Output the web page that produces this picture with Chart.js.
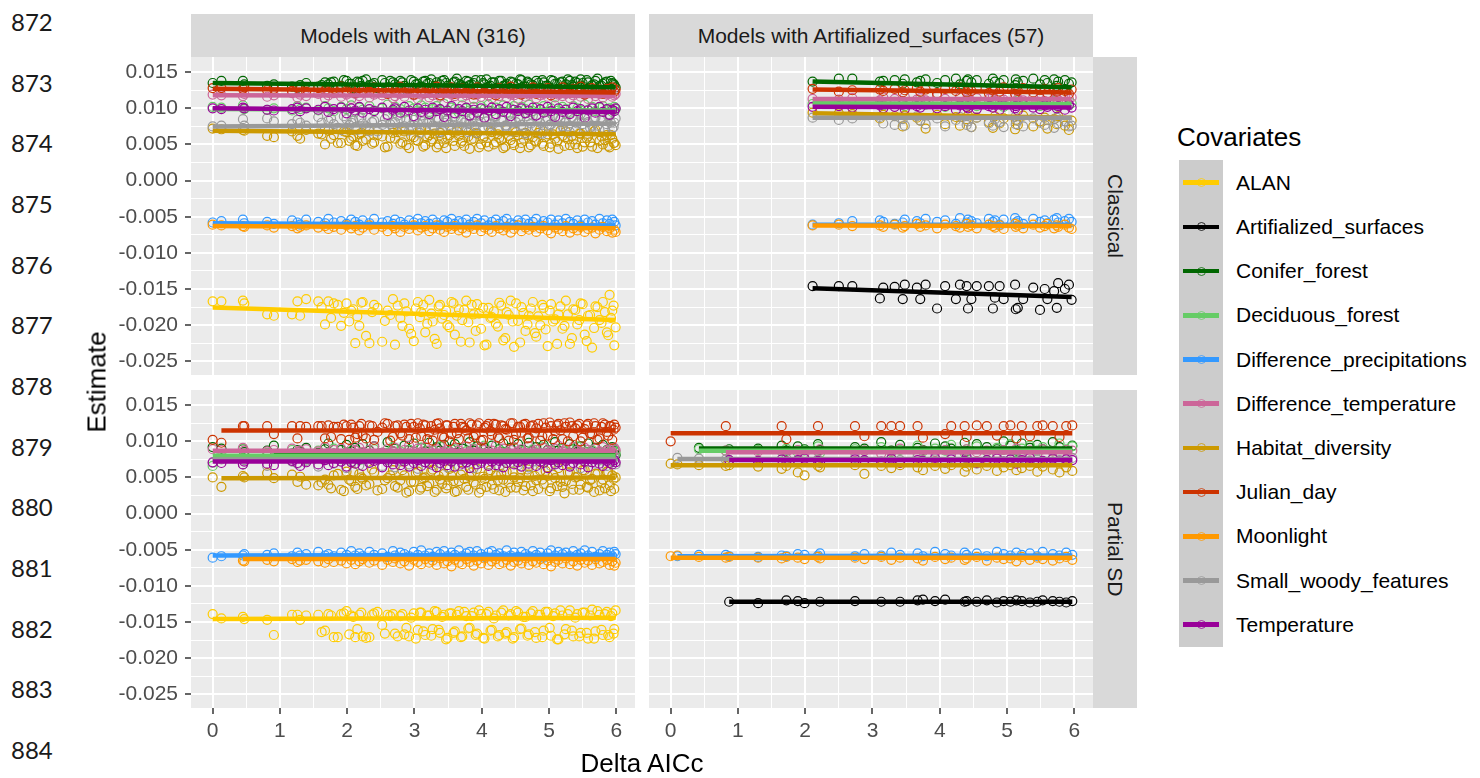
<!DOCTYPE html>
<html><head><meta charset="utf-8">
<script src="https://cdn.jsdelivr.net/npm/chart.js@4.4.1/dist/chart.umd.min.js"></script>
<style>
html,body{margin:0;padding:0;background:#fff}
body{width:1480px;height:778px;position:relative;overflow:hidden;font-family:"Liberation Sans",Arial,sans-serif}
.abs{position:absolute}
.strip{position:absolute;background:#D9D9D9;color:#1A1A1A;font-size:21px;display:flex;align-items:center;justify-content:center;white-space:nowrap}
.vstrip{writing-mode:vertical-rl}
.ln{position:absolute;left:11px;font-family:Lato,"Liberation Sans",sans-serif;font-size:24px;color:#1a1a1a;line-height:28px}
.leg{position:absolute;left:1236px;font-size:21px;color:#000;line-height:26px;white-space:nowrap}
canvas{position:absolute}
</style></head>
<body>
<div id="linenums"></div>
<div class="strip" style="left:191px;top:14px;width:444px;height:43px">Models with ALAN (316)</div>
<div class="strip" style="left:649px;top:14px;width:444px;height:43px">Models with Artifialized_surfaces (57)</div>
<div class="strip vstrip" style="left:1093px;top:57px;width:44px;height:318px">Classical</div>
<div class="strip vstrip" style="left:1093px;top:390px;width:44px;height:318px">Partial SD</div>
<canvas id="tl" width="535" height="318" style="left:100px;top:57px"></canvas>
<canvas id="tr" width="444" height="318" style="left:649px;top:57px"></canvas>
<canvas id="bl" width="535" height="358" style="left:100px;top:390px"></canvas>
<canvas id="br" width="444" height="358" style="left:649px;top:390px"></canvas>
<div class="abs" style="left:84px;top:382px;width:0;height:0"><div style="position:absolute;transform:translate(-50%,-50%) rotate(-90deg);font-size:26px;color:#000;white-space:nowrap;left:13px">Estimate</div></div>
<div class="abs" style="left:642px;top:763px;width:0;height:0"><div style="position:absolute;transform:translate(-50%,-50%);font-size:26px;color:#000;white-space:nowrap">Delta AICc</div></div>
<div class="abs" style="left:1177px;top:122px;font-size:26px;line-height:30px;color:#000">Covariates</div>
<div class="abs" style="left:1179px;top:160px;width:44px;height:487px;background:#CCCCCC"></div>
<div id="legend"></div>
<script>
// ---------- labels ----------
const lineNumbers = ["872","873","874","875","876","877","878","879","880","881","882","883","884"];
const covariates = ["ALAN","Artifialized_surfaces","Conifer_forest","Deciduous_forest","Difference_precipitations","Difference_temperature","Habitat_diversity","Julian_day","Moonlight","Small_woody_features","Temperature"];
const colors = ["#FFCC00","#000000","#006600","#66CC66","#3399FF","#CC6699","#CC9900","#CC3300","#FF9900","#999999","#990099"];
const xTicks = [0,0.5,1,1.5,2,2.5,3,3.5,4,4.5,5,5.5,6];
const yTicks = [-0.025,-0.0225,-0.02,-0.0175,-0.015,-0.0125,-0.01,-0.0075,-0.005,-0.0025,0,0.0025,0.005,0.0075,0.01,0.0125,0.015];

// ---------- Delta AICc of models (left column: models with ALAN) ----------
const xL = [0,0.13,0.45,0.47,0.81,0.91,1.18,1.26,1.30,1.39,
1.57,1.67,1.72,1.80,1.91,1.99,2.06,2.12,2.18,2.23,
2.33,2.40,2.52,2.60,2.68,2.71,2.79,2.85,2.92,2.99,
3.05,3.10,3.16,3.22,3.27,3.33,3.38,3.44,3.49,3.55,
3.60,3.66,3.71,3.77,3.82,3.88,3.93,3.99,4.04,4.10,
4.15,4.21,4.26,4.32,4.37,4.43,4.48,4.54,4.59,4.65,
4.70,4.76,4.81,4.87,4.92,4.98,5.03,5.09,5.14,5.20,
5.25,5.31,5.36,5.42,5.47,5.53,5.58,5.64,5.69,5.75,
5.80,5.86,5.90,5.94,5.97,5.99];
// second batch of models with ALAN (fewer covariates each)
const xL2 = [1.62,1.76,1.86,1.95,2.03,2.09,2.15,2.21,2.28,2.37,
2.45,2.56,2.64,2.75,2.82,2.88,2.95,3.02,3.08,3.13,
3.19,3.25,3.30,3.36,3.41,3.47,3.52,3.58,3.63,3.69,
3.74,3.80,3.85,3.91,3.96,4.02,4.07,4.13,4.18,4.24,
4.29,4.35,4.40,4.46,4.51,4.57,4.62,4.68,4.73,4.79,
4.84,4.90,4.95,5.01,5.06,5.12,5.17,5.23,5.28,5.34,
5.39,5.45,5.50,5.56,5.61,5.67,5.72,5.78,5.83,5.88,5.92,5.96];

// ---------- Classical, models with ALAN ----------
const TL_ALAN = [-.0167,-.0167,-.0166,-.0170,-.0185,-.0187,-.0185,-.0167,-.0187,-.0164,
-.0167,-.0199,-.0167,-.0170,-.0201,-.0170,-.0180,-.0225,-.0201,-.0168,
-.0225,-.0172,-.0223,-.0180,-.0164,-.0227,-.0190,-.0170,-.0205,-.0222,
-.0168,-.0182,-.0210,-.0165,-.0195,-.0226,-.0172,-.0186,-.0200,-.0168,
-.0213,-.0178,-.0193,-.0166,-.0224,-.0185,-.0171,-.0205,-.0228,-.0176,
-.0189,-.0198,-.0169,-.0221,-.0182,-.0166,-.0230,-.0194,-.0175,-.0208,
-.0187,-.0168,-.0216,-.0200,-.0176,-.0229,-.0171,-.0192,-.0185,-.0205,
-.0166,-.0226,-.0178,-.0199,-.0170,-.0213,-.0187,-.0231,-.0174,-.0193,
-.0168,-.0210,-.0158,-.0180,-.0228,-.0203];
const TL_Conifer = [.0135,.0138,.0138,.0133,.0131,.0133,.0130,.0128,.0132,.0135,
.0130,.0136,.0133,.0137,.0131,.0138,.0134,.0127,.0136,.0138,
.0132,.0135,.0139,.0129,.0136,.0133,.0138,.0131,.0127,.0137,
.0134,.0130,.0138,.0135,.0128,.0136,.0133,.0139,.0131,.0126,
.0137,.0134,.0129,.0138,.0132,.0135,.0127,.0139,.0133,.0130,
.0136,.0128,.0138,.0131,.0134,.0137,.0126,.0133,.0139,.0130,
.0135,.0132,.0138,.0128,.0136,.0131,.0139,.0134,.0127,.0137,
.0133,.0138,.0130,.0135,.0140,.0129,.0136,.0132,.0138,.0131,
.0134,.0137,.0128,.0135,.0132,.0129];
const TL_Deciduous = [.0102,.0101,.0104,.0099,.0098,.0100,.0097,.0103,.0099,.0101,
.0097,.0103,.0100,.0096,.0102,.0099,.0104,.0095,.0101,.0098,
.0103,.0097,.0100,.0105,.0096,.0102,.0099,.0094,.0103,.0100,
.0097,.0104,.0101,.0095,.0099,.0103,.0098,.0106,.0096,.0101,
.0099,.0094,.0104,.0100,.0097,.0102,.0095,.0103,.0099,.0105,
.0096,.0101,.0098,.0104,.0094,.0100,.0103,.0097,.0102,.0099,
.0105,.0096,.0101,.0098,.0103,.0095,.0100,.0104,.0097,.0102,
.0099,.0094,.0103,.0100,.0097,.0105,.0098,.0102,.0096,.0101,
.0103,.0098,.0100,.0095,.0102,.0099];
const TL_DiffPrecip = [-.0058,-.0056,-.0054,-.0059,-.0057,-.0060,-.0055,-.0058,-.0061,-.0054,
-.0057,-.0059,-.0053,-.0058,-.0056,-.0060,-.0054,-.0057,-.0061,-.0055,
-.0059,-.0053,-.0058,-.0056,-.0060,-.0054,-.0057,-.0061,-.0055,-.0058,
-.0053,-.0059,-.0056,-.0060,-.0054,-.0058,-.0062,-.0055,-.0057,-.0053,
-.0060,-.0056,-.0058,-.0054,-.0061,-.0057,-.0053,-.0059,-.0055,-.0062,
-.0057,-.0054,-.0060,-.0056,-.0053,-.0059,-.0061,-.0055,-.0058,-.0054,
-.0060,-.0057,-.0053,-.0062,-.0056,-.0058,-.0054,-.0061,-.0055,-.0059,
-.0053,-.0057,-.0060,-.0055,-.0062,-.0054,-.0058,-.0056,-.0061,-.0053,
-.0059,-.0055,-.0060,-.0054,-.0057,-.0062];
const TL_DiffTemp = [.0119,.0118,.0117,.0120,.0116,.0118,.0121,.0115,.0119,.0117,
.0120,.0114,.0118,.0121,.0116,.0119,.0113,.0120,.0117,.0122,
.0115,.0119,.0118,.0121,.0114,.0117,.0120,.0116,.0122,.0118,
.0113,.0119,.0121,.0115,.0118,.0120,.0116,.0122,.0114,.0119,
.0117,.0121,.0115,.0118,.0120,.0113,.0119,.0116,.0121,.0118,
.0114,.0120,.0117,.0122,.0115,.0119,.0118,.0113,.0121,.0116,
.0119,.0122,.0114,.0118,.0120,.0116,.0121,.0115,.0119,.0117,
.0120,.0114,.0118,.0122,.0116,.0119,.0113,.0121,.0117,.0120,
.0115,.0119,.0121,.0116,.0118,.0120];
const TL_Habitat = [.0072,.0071,.0070,.0069,.0062,.0060,.0068,.0062,.0058,.0070,
.0065,.0050,.0069,.0063,.0052,.0067,.0058,.0049,.0064,.0055,
.0070,.0053,.0061,.0047,.0066,.0058,.0051,.0068,.0045,.0060,
.0055,.0071,.0049,.0063,.0057,.0046,.0066,.0052,.0059,.0069,
.0048,.0062,.0055,.0073,.0044,.0058,.0065,.0050,.0061,.0047,
.0067,.0053,.0059,.0045,.0070,.0056,.0049,.0063,.0052,.0066,
.0046,.0060,.0054,.0071,.0048,.0064,.0051,.0058,.0044,.0062,
.0068,.0049,.0057,.0045,.0065,.0053,.0061,.0047,.0070,.0055,
.0050,.0063,.0046,.0058,.0052,.0049];
const TL_Julian = [.0128,.0128,.0127,.0129,.0125,.0127,.0124,.0129,.0126,.0123,
.0128,.0125,.0122,.0127,.0130,.0124,.0126,.0121,.0128,.0125,
.0123,.0129,.0126,.0120,.0127,.0124,.0130,.0122,.0126,.0119,
.0128,.0124,.0121,.0127,.0125,.0130,.0118,.0126,.0123,.0129,
.0120,.0125,.0128,.0122,.0126,.0119,.0129,.0124,.0121,.0127,
.0125,.0118,.0128,.0123,.0126,.0130,.0121,.0125,.0119,.0127,
.0123,.0129,.0120,.0126,.0124,.0128,.0118,.0125,.0122,.0129,
.0126,.0121,.0127,.0124,.0130,.0119,.0125,.0128,.0122,.0126,
.0120,.0127,.0124,.0129,.0123,.0126];
const TL_Moonlight = [-.0061,-.0062,-.0063,-.0064,-.0062,-.0065,-.0063,-.0066,-.0064,-.0062,
-.0065,-.0063,-.0067,-.0064,-.0068,-.0062,-.0066,-.0063,-.0069,-.0065,
-.0062,-.0068,-.0064,-.0070,-.0063,-.0066,-.0071,-.0064,-.0067,-.0062,
-.0069,-.0065,-.0063,-.0070,-.0066,-.0062,-.0068,-.0071,-.0064,-.0067,
-.0063,-.0069,-.0066,-.0072,-.0064,-.0067,-.0062,-.0070,-.0065,-.0068,
-.0071,-.0063,-.0066,-.0069,-.0064,-.0072,-.0067,-.0062,-.0070,-.0065,
-.0068,-.0064,-.0071,-.0066,-.0063,-.0069,-.0073,-.0065,-.0067,-.0070,
-.0063,-.0072,-.0066,-.0069,-.0064,-.0071,-.0067,-.0065,-.0073,-.0068,
-.0064,-.0070,-.0066,-.0072,-.0068,-.0071];
const TL_SmallWoody = [.0075,.0076,.0085,.0076,.0086,.0082,.0078,.0084,.0080,.0076,
.0088,.0072,.0083,.0078,.0070,.0085,.0080,.0074,.0087,.0079,
.0068,.0083,.0077,.0089,.0072,.0081,.0086,.0075,.0069,.0084,
.0079,.0090,.0071,.0082,.0076,.0087,.0067,.0080,.0085,.0073,
.0088,.0075,.0070,.0083,.0078,.0091,.0066,.0081,.0086,.0074,
.0079,.0089,.0069,.0084,.0076,.0082,.0072,.0087,.0077,.0065,
.0083,.0090,.0074,.0080,.0068,.0086,.0078,.0071,.0088,.0075,
.0082,.0067,.0085,.0079,.0092,.0073,.0081,.0076,.0087,.0070,
.0084,.0078,.0089,.0072,.0080,.0086];
const TL_Temperature = [.0100,.0099,.0101,.0100,.0098,.0097,.0099,.0101,.0096,.0100,
.0098,.0102,.0095,.0099,.0101,.0093,.0100,.0097,.0102,.0094,
.0099,.0096,.0101,.0091,.0098,.0100,.0094,.0102,.0097,.0089,
.0100,.0095,.0098,.0092,.0101,.0096,.0099,.0088,.0097,.0103,
.0093,.0099,.0096,.0101,.0090,.0098,.0094,.0100,.0087,.0097,
.0101,.0092,.0099,.0095,.0102,.0089,.0098,.0096,.0100,.0093,
.0097,.0101,.0090,.0099,.0094,.0102,.0096,.0088,.0100,.0095,
.0098,.0092,.0101,.0096,.0099,.0087,.0097,.0100,.0094,.0102,
.0095,.0099,.0091,.0098,.0096,.0100];
// second batch (xL2), Classical
const TL2_ALAN = [-.0175,-.0190,-.0172,-.0183,-.0195,-.0178,-.0188,-.0169,-.0215,-.0182,
-.0176,-.0194,-.0186,-.0173,-.0201,-.0181,-.0212,-.0177,-.0189,-.0172,
-.0198,-.0184,-.0219,-.0174,-.0191,-.0180,-.0203,-.0170,-.0187,-.0223,
-.0179,-.0196,-.0172,-.0208,-.0184,-.0176,-.0227,-.0190,-.0181,-.0202,
-.0173,-.0218,-.0186,-.0195,-.0170,-.0224,-.0183,-.0199,-.0177,-.0211,
-.0188,-.0172,-.0206,-.0180,-.0195,-.0226,-.0174,-.0201,-.0185,-.0218,
-.0179,-.0193,-.0171,-.0222,-.0186,-.0204,-.0175,-.0197,-.0182,-.0214,-.0190,-.0173];
const TL2_Conifer = [.0132,.0136,.0129,.0139,.0134,.0127,.0137,.0131,.0140,.0133,
.0128,.0135,.0138,.0130,.0136,.0126,.0139,.0133,.0129,.0137,
.0134,.0140,.0131,.0127,.0138,.0135,.0129,.0136,.0141,.0132,
.0130,.0137,.0133,.0139,.0128,.0135,.0140,.0131,.0136,.0127,
.0138,.0132,.0129,.0136,.0134,.0140,.0130,.0137,.0133,.0128,
.0135,.0139,.0131,.0127,.0138,.0134,.0136,.0129,.0140,.0132,
.0137,.0130,.0135,.0139,.0128,.0133,.0141,.0131,.0136,.0129,.0138,.0134];
const TL2_Habitat = [.0064,.0058,.0052,.0068,.0055,.0061,.0048,.0066,.0057,.0051,
.0063,.0046,.0059,.0067,.0053,.0049,.0062,.0056,.0070,.0047,
.0060,.0054,.0065,.0050,.0058,.0045,.0063,.0055,.0068,.0052,
.0048,.0061,.0057,.0066,.0046,.0059,.0053,.0069,.0050,.0064,
.0056,.0047,.0062,.0052,.0067,.0045,.0058,.0063,.0049,.0055,
.0066,.0051,.0060,.0046,.0064,.0054,.0069,.0048,.0057,.0062,
.0050,.0065,.0047,.0059,.0053,.0068,.0045,.0061,.0056,.0048,.0063,.0052];
const TL2_SmallWoody = [.0080,.0086,.0073,.0089,.0077,.0083,.0070,.0087,.0075,.0081,
.0068,.0085,.0078,.0090,.0072,.0084,.0076,.0088,.0066,.0082,
.0079,.0091,.0074,.0086,.0069,.0083,.0077,.0089,.0071,.0085,
.0080,.0067,.0087,.0075,.0090,.0073,.0082,.0078,.0088,.0070,
.0084,.0076,.0091,.0068,.0081,.0086,.0074,.0089,.0079,.0072,
.0087,.0065,.0083,.0077,.0090,.0071,.0085,.0080,.0075,.0088,
.0069,.0082,.0078,.0091,.0073,.0086,.0076,.0084,.0070,.0089,.0080,.0074];

// ---------- Partial SD, models with ALAN ----------
const BL_ALAN = [-.0139,-.0145,-.0143,-.0146,-.0147,-.0168,-.0140,-.0140,-.0147,-.0141,
-.0140,-.0162,-.0139,-.0171,-.0139,-.0135,-.0141,-.0171,-.0140,-.0170,
-.0171,-.0138,-.0154,-.0140,-.0139,-.0166,-.0142,-.0167,-.0170,-.0138,
-.0161,-.0137,-.0168,-.0141,-.0160,-.0136,-.0165,-.0140,-.0172,-.0138,
-.0163,-.0135,-.0170,-.0142,-.0158,-.0137,-.0166,-.0139,-.0173,-.0136,
-.0161,-.0141,-.0168,-.0134,-.0164,-.0139,-.0171,-.0137,-.0159,-.0143,
-.0167,-.0135,-.0172,-.0140,-.0162,-.0136,-.0169,-.0138,-.0174,-.0141,
-.0160,-.0134,-.0170,-.0139,-.0165,-.0137,-.0173,-.0133,-.0163,-.0140,
-.0168,-.0136,-.0171,-.0138,-.0160,-.0134];
const BL_Conifer = [.0092,.0090,.0089,.0085,.0087,.0094,.0083,.0088,.0086,.0091,
.0084,.0089,.0097,.0083,.0088,.0095,.0086,.0091,.0082,.0096,
.0087,.0093,.0084,.0099,.0086,.0090,.0081,.0094,.0088,.0097,
.0083,.0091,.0086,.0098,.0080,.0092,.0087,.0095,.0082,.0089,
.0096,.0084,.0090,.0081,.0099,.0087,.0093,.0079,.0091,.0086,
.0094,.0082,.0089,.0097,.0085,.0091,.0080,.0096,.0088,.0083,
.0098,.0086,.0092,.0081,.0095,.0088,.0084,.0099,.0087,.0090,
.0082,.0096,.0089,.0085,.0093,.0080,.0097,.0086,.0091,.0084,
.0095,.0088,.0083,.0092,.0087,.0081];
const BL_Deciduous = [.0066,.0082,.0090,.0079,.0084,.0077,.0088,.0080,.0083,.0075,
.0087,.0078,.0082,.0090,.0076,.0085,.0079,.0088,.0074,.0083,
.0081,.0089,.0077,.0084,.0092,.0079,.0086,.0075,.0088,.0082,
.0078,.0091,.0083,.0076,.0087,.0080,.0093,.0079,.0085,.0077,
.0089,.0081,.0075,.0086,.0082,.0090,.0078,.0084,.0094,.0080,
.0083,.0076,.0088,.0081,.0085,.0079,.0091,.0077,.0086,.0082,
.0080,.0089,.0084,.0076,.0092,.0081,.0087,.0078,.0083,.0090,
.0086,.0079,.0082,.0093,.0077,.0085,.0080,.0088,.0081,.0084,
.0078,.0087,.0083,.0090,.0081,.0085];
const BL_DiffPrecip = [-.0061,-.0059,-.0058,-.0056,-.0057,-.0055,-.0059,-.0054,-.0058,-.0056,
-.0053,-.0058,-.0056,-.0059,-.0054,-.0057,-.0052,-.0058,-.0055,-.0059,
-.0053,-.0057,-.0055,-.0060,-.0052,-.0058,-.0054,-.0056,-.0059,-.0053,
-.0057,-.0051,-.0058,-.0055,-.0060,-.0053,-.0056,-.0052,-.0059,-.0054,
-.0057,-.0051,-.0059,-.0055,-.0053,-.0058,-.0052,-.0056,-.0060,-.0054,
-.0052,-.0057,-.0055,-.0059,-.0051,-.0058,-.0054,-.0060,-.0053,-.0056,
-.0059,-.0052,-.0057,-.0054,-.0061,-.0055,-.0051,-.0058,-.0053,-.0056,
-.0054,-.0059,-.0052,-.0057,-.0055,-.0051,-.0058,-.0053,-.0060,-.0056,
-.0052,-.0057,-.0054,-.0059,-.0053,-.0056];
const BL_DiffTemp = [.0089,.0088,.0091,.0087,.0086,.0088,.0090,.0085,.0087,.0089,
.0086,.0092,.0084,.0088,.0090,.0083,.0089,.0087,.0091,.0085,
.0088,.0093,.0084,.0089,.0086,.0091,.0083,.0088,.0094,.0086,
.0090,.0085,.0092,.0087,.0083,.0089,.0095,.0086,.0088,.0084,
.0091,.0087,.0083,.0093,.0086,.0089,.0085,.0092,.0088,.0082,
.0087,.0094,.0085,.0090,.0083,.0088,.0092,.0086,.0089,.0084,
.0093,.0086,.0088,.0082,.0091,.0087,.0085,.0090,.0094,.0086,
.0089,.0083,.0092,.0087,.0085,.0091,.0088,.0084,.0090,.0086,
.0092,.0087,.0089,.0085,.0091,.0088];
const BL_Habitat = [.0050,.0037,.0052,.0050,.0056,.0049,.0054,.0044,.0051,.0040,
.0039,.0047,.0040,.0053,.0033,.0058,.0045,.0037,.0055,.0048,
.0041,.0057,.0034,.0049,.0060,.0038,.0046,.0053,.0031,.0044,
.0058,.0036,.0050,.0042,.0061,.0033,.0047,.0055,.0039,.0052,
.0030,.0045,.0059,.0037,.0051,.0043,.0062,.0034,.0048,.0056,
.0040,.0053,.0032,.0047,.0058,.0036,.0050,.0044,.0061,.0038,
.0054,.0031,.0046,.0059,.0041,.0052,.0035,.0049,.0063,.0037,
.0045,.0057,.0033,.0051,.0040,.0060,.0036,.0048,.0055,.0032,
.0047,.0058,.0039,.0053,.0034,.0050];
const BL_Julian = [.0102,.0098,.0121,.0121,.0121,.0110,.0121,.0104,.0121,.0120,
.0121,.0104,.0122,.0120,.0103,.0121,.0123,.0105,.0121,.0108,
.0122,.0102,.0119,.0124,.0106,.0121,.0111,.0123,.0103,.0120,
.0125,.0107,.0122,.0113,.0101,.0124,.0118,.0105,.0122,.0110,
.0124,.0103,.0120,.0115,.0125,.0106,.0122,.0101,.0119,.0124,
.0109,.0123,.0104,.0121,.0116,.0125,.0102,.0120,.0112,.0124,
.0105,.0122,.0118,.0101,.0125,.0108,.0121,.0114,.0124,.0103,
.0120,.0126,.0107,.0122,.0100,.0117,.0124,.0110,.0121,.0104,
.0125,.0113,.0121,.0102,.0123,.0119];
const BL_Moonlight = [null,null,-.0065,-.0066,-.0064,-.0066,-.0063,-.0067,-.0065,-.0064,
-.0066,-.0068,-.0063,-.0067,-.0065,-.0069,-.0064,-.0070,-.0066,-.0063,
-.0068,-.0065,-.0071,-.0064,-.0067,-.0062,-.0069,-.0066,-.0072,-.0064,
-.0067,-.0070,-.0063,-.0068,-.0065,-.0071,-.0062,-.0069,-.0066,-.0073,
-.0064,-.0068,-.0070,-.0063,-.0067,-.0072,-.0065,-.0069,-.0062,-.0071,
-.0066,-.0063,-.0070,-.0068,-.0064,-.0072,-.0067,-.0065,-.0069,-.0062,
-.0071,-.0066,-.0068,-.0063,-.0070,-.0065,-.0073,-.0067,-.0064,-.0069,
-.0062,-.0070,-.0066,-.0072,-.0064,-.0068,-.0065,-.0071,-.0063,-.0069,
-.0067,-.0064,-.0071,-.0066,-.0072,-.0068];
const BL_SmallWoody = [.0070,.0075,.0068,.0074,.0066,.0076,.0072,.0069,.0078,.0073,
.0065,.0074,.0080,.0069,.0076,.0063,.0072,.0079,.0067,.0075,
.0071,.0082,.0066,.0074,.0078,.0064,.0073,.0080,.0068,.0076,
.0062,.0077,.0071,.0083,.0067,.0075,.0069,.0081,.0064,.0073,
.0078,.0066,.0074,.0070,.0084,.0063,.0076,.0072,.0079,.0068,
.0075,.0081,.0065,.0073,.0077,.0070,.0082,.0067,.0074,.0079,
.0064,.0072,.0080,.0068,.0076,.0083,.0066,.0074,.0070,.0078,
.0073,.0067,.0081,.0075,.0063,.0078,.0071,.0085,.0069,.0074,
.0080,.0066,.0076,.0072,.0079,.0068];
const BL_Temperature = [.0071,.0070,.0068,.0072,.0069,.0067,.0073,.0070,.0066,.0071,
.0068,.0074,.0067,.0070,.0072,.0065,.0071,.0069,.0075,.0066,
.0070,.0073,.0064,.0071,.0068,.0076,.0067,.0072,.0065,.0070,
.0074,.0066,.0071,.0069,.0077,.0064,.0070,.0073,.0067,.0072,
.0065,.0075,.0069,.0071,.0063,.0074,.0068,.0070,.0076,.0066,
.0072,.0067,.0073,.0064,.0070,.0075,.0068,.0071,.0065,.0074,
.0069,.0076,.0066,.0072,.0070,.0063,.0074,.0068,.0071,.0067,
.0073,.0065,.0070,.0076,.0068,.0072,.0064,.0071,.0075,.0069,
.0066,.0073,.0070,.0068,.0074,.0071];
// second batch (xL2), Partial SD
const BL2_ALAN = [-.0164,-.0141,-.0171,-.0138,-.0167,-.0143,-.0160,-.0137,-.0172,-.0140,
-.0136,-.0166,-.0142,-.0170,-.0139,-.0158,-.0144,-.0173,-.0137,-.0163,
-.0141,-.0169,-.0135,-.0161,-.0143,-.0174,-.0138,-.0165,-.0140,-.0171,
-.0136,-.0159,-.0142,-.0168,-.0134,-.0172,-.0139,-.0162,-.0145,-.0170,
-.0137,-.0166,-.0141,-.0173,-.0135,-.0160,-.0143,-.0169,-.0138,-.0164,
-.0140,-.0171,-.0136,-.0158,-.0142,-.0174,-.0134,-.0167,-.0139,-.0162,
-.0144,-.0170,-.0137,-.0165,-.0141,-.0173,-.0135,-.0161,-.0139,-.0168,-.0142,-.0166];
const BL2_Habitat = [.0043,.0035,.0055,.0031,.0047,.0058,.0034,.0050,.0039,.0061,
.0032,.0046,.0053,.0036,.0060,.0029,.0044,.0056,.0033,.0049,
.0038,.0059,.0030,.0052,.0041,.0035,.0062,.0045,.0031,.0054,
.0048,.0033,.0057,.0040,.0029,.0051,.0037,.0060,.0034,.0046,
.0055,.0030,.0043,.0058,.0036,.0049,.0032,.0061,.0039,.0052,
.0034,.0047,.0059,.0031,.0054,.0038,.0044,.0028,.0057,.0041,
.0050,.0033,.0060,.0037,.0046,.0030,.0055,.0042,.0035,.0058,.0031,.0048];
const BL2_Julian = [.0121,.0106,.0120,.0123,.0102,.0119,.0110,.0124,.0104,.0121,
.0113,.0125,.0101,.0122,.0108,.0120,.0124,.0105,.0118,.0123,
.0103,.0121,.0116,.0125,.0107,.0122,.0100,.0120,.0111,.0124,
.0119,.0104,.0123,.0109,.0125,.0102,.0121,.0114,.0124,.0106,
.0122,.0117,.0101,.0125,.0110,.0120,.0123,.0104,.0121,.0112,
.0124,.0107,.0119,.0126,.0103,.0122,.0115,.0125,.0100,.0121,
.0118,.0124,.0105,.0122,.0111,.0125,.0102,.0120,.0123,.0108,.0121,.0116];

// ---------- Classical, models with Artifialized_surfaces ----------
const xTR = [2.11,2.50,2.70,3.11,3.16,3.33,3.45,3.48,3.66,3.71,
3.79,3.96,4.08,4.24,4.30,4.40,4.42,4.47,4.55,4.73,
4.79,4.82,4.89,4.95,5.12,5.13,5.16,5.24,5.39,5.49,
5.56,5.60,5.70,5.74,5.76,5.86,5.92,5.96];
const TR_Artif = [-.0146,-.0146,-.0146,-.0163,-.0148,-.0147,-.0164,-.0144,-.0148,-.0164,
-.0144,-.0177,-.0146,-.0164,-.0144,-.0146,-.0177,-.0164,-.0146,-.0146,
-.0177,-.0162,-.0146,-.0164,-.0144,-.0178,-.0176,-.0164,-.0148,-.0179,
-.0150,-.0164,-.0153,-.0176,-.0142,-.0150,-.0144,-.0165];
const TR_Conifer = [.0137,.0141,.0141,.0137,.0138,.0139,.0134,.0140,.0136,.0138,
.0140,.0135,.0139,.0141,.0133,.0138,.0140,.0136,.0139,.0134,
.0141,.0137,.0135,.0139,.0132,.0140,.0136,.0138,.0141,.0133,
.0139,.0135,.0140,.0131,.0137,.0139,.0134,.0136];
const TR_Deciduous = [.0106,.0108,.0105,.0107,.0104,.0109,.0106,.0103,.0108,.0110,
.0105,.0107,.0102,.0109,.0106,.0111,.0104,.0108,.0103,.0107,
.0110,.0105,.0108,.0102,.0109,.0106,.0111,.0104,.0107,.0103,
.0109,.0105,.0110,.0106,.0102,.0108,.0104,.0107];
const TR_DiffPrecip = [-.0061,-.0059,-.0056,-.0055,-.0057,-.0060,-.0058,-.0054,-.0056,-.0059,
-.0053,-.0057,-.0055,-.0060,-.0052,-.0058,-.0054,-.0056,-.0059,-.0053,
-.0057,-.0055,-.0061,-.0054,-.0052,-.0058,-.0056,-.0060,-.0053,-.0057,
-.0055,-.0059,-.0054,-.0052,-.0058,-.0056,-.0053,-.0057];
const TR_DiffTemp = [.0113,.0112,.0114,.0111,.0115,.0113,.0110,.0116,.0112,.0114,
.0111,.0117,.0113,.0109,.0115,.0112,.0116,.0110,.0114,.0113,
.0117,.0111,.0115,.0112,.0109,.0116,.0113,.0111,.0115,.0114,
.0110,.0116,.0112,.0114,.0111,.0117,.0113,.0115];
const TR_Habitat = [.0094,.0093,.0092,.0086,.0091,.0089,.0075,.0090,.0087,.0083,
.0072,.0091,.0078,.0088,.0076,.0085,.0090,.0074,.0087,.0081,
.0073,.0089,.0079,.0086,.0071,.0084,.0077,.0090,.0075,.0082,
.0087,.0072,.0085,.0078,.0089,.0076,.0070,.0083];
const TR_Julian = [.0127,.0123,.0125,.0126,.0124,.0127,.0122,.0125,.0128,.0123,
.0126,.0121,.0127,.0124,.0129,.0122,.0126,.0124,.0128,.0121,
.0125,.0127,.0123,.0129,.0120,.0126,.0124,.0128,.0122,.0125,
.0127,.0121,.0126,.0123,.0128,.0124,.0120,.0126];
const TR_Moonlight = [-.0062,-.0061,-.0063,-.0062,-.0064,-.0061,-.0065,-.0063,-.0060,-.0064,
-.0062,-.0066,-.0061,-.0063,-.0065,-.0060,-.0064,-.0062,-.0066,-.0061,
-.0063,-.0065,-.0062,-.0067,-.0060,-.0064,-.0062,-.0066,-.0061,-.0065,
-.0063,-.0060,-.0066,-.0062,-.0064,-.0061,-.0065,-.0067];
const TR_SmallWoody = [.0087,.0084,.0086,.0088,.0079,.0077,.0085,.0076,.0089,.0083,
.0078,.0086,.0075,.0084,.0088,.0077,.0082,.0074,.0087,.0079,
.0076,.0085,.0081,.0074,.0088,.0078,.0083,.0075,.0086,.0080,
.0077,.0084,.0073,.0087,.0079,.0082,.0075,.0076];
const TR_Temperature = [.0102,.0103,.0101,.0104,.0100,.0102,.0105,.0099,.0103,.0101,
.0106,.0100,.0103,.0098,.0104,.0102,.0100,.0105,.0099,.0103,
.0101,.0106,.0098,.0104,.0100,.0103,.0097,.0105,.0101,.0099,
.0104,.0102,.0106,.0100,.0103,.0098,.0105,.0101];

// ---------- Partial SD, models with Artifialized_surfaces ----------
const xBR = [0,0.10,0.42,0.82,0.87,1.30,1.65,1.72,1.89,1.99,
2.19,2.22,2.74,2.88,3.13,3.28,3.41,3.67,3.75,3.93,
4.08,4.17,4.37,4.40,4.55,4.70,4.85,4.95,5.05,5.14,
5.22,5.34,5.45,5.53,5.68,5.78,5.88,5.97];
const BR_Artif = [null,null,null,null,-.0122,-.0124,null,-.0120,-.0121,-.0124,
null,-.0122,-.0121,null,-.0122,null,-.0122,-.0120,-.0119,-.0121,
-.0119,null,-.0122,-.0121,-.0122,-.0120,-.0123,-.0121,-.0122,-.0120,
-.0121,-.0123,-.0122,-.0120,-.0121,-.0122,-.0123,-.0121];
const BR_Conifer = [null,null,.0091,null,.0089,.0090,.0094,.0087,.0093,.0089,
.0096,.0088,.0092,.0090,.0099,.0087,.0095,.0091,.0088,.0097,
.0093,.0090,.0098,.0086,.0096,.0092,.0089,.0100,.0094,.0087,
.0097,.0091,.0095,.0089,.0099,.0092,.0088,.0094];
const BR_Deciduous = [null,null,.0089,.0087,null,.0088,.0086,.0090,.0085,.0087,
.0093,.0084,.0089,.0087,.0092,.0085,.0088,.0094,.0086,.0090,
.0087,.0095,.0084,.0089,.0093,.0086,.0091,.0088,.0096,.0085,
.0090,.0094,.0087,.0092,.0086,.0097,.0089,.0093];
const BR_DiffPrecip = [null,-.0059,-.0057,-.0057,-.0059,-.0060,-.0058,-.0059,-.0056,-.0057,
-.0058,-.0055,-.0059,-.0056,-.0058,-.0054,-.0057,-.0055,-.0059,-.0053,
-.0056,-.0058,-.0054,-.0057,-.0055,-.0059,-.0053,-.0056,-.0058,-.0054,
-.0057,-.0055,-.0059,-.0053,-.0056,-.0058,-.0054,-.0057];
const BR_DiffTemp = [null,null,null,.0087,null,.0086,null,.0085,.0088,.0084,
.0086,.0089,.0085,.0087,.0083,.0086,.0090,.0084,.0087,.0085,
.0088,.0083,.0086,.0089,.0085,.0087,.0084,.0088,.0086,.0090,
.0085,.0087,.0083,.0089,.0086,.0084,.0088,.0087];
const BR_Habitat = [.0069,.0068,.0067,.0066,.0067,.0065,.0062,.0066,.0057,.0053,
.0066,.0064,.0067,.0055,.0066,.0063,.0067,.0064,.0060,.0066,
.0062,.0067,.0058,.0065,.0061,.0066,.0059,.0064,.0067,.0060,
.0063,.0066,.0058,.0065,.0061,.0057,.0064,.0059];
const BR_Julian = [.0100,null,null,.0121,null,null,.0121,.0103,null,null,
.0121,null,.0121,.0107,.0121,.0121,.0121,.0121,.0105,null,
.0110,.0121,.0121,.0106,.0122,.0121,.0108,.0121,.0122,.0104,
.0121,.0107,.0121,.0122,.0121,.0106,.0121,.0122];
const BR_Moonlight = [-.0059,-.0058,-.0060,-.0061,-.0060,-.0061,-.0062,-.0060,-.0061,-.0063,
-.0060,-.0062,-.0061,-.0063,-.0060,-.0064,-.0061,-.0062,-.0065,-.0060,
-.0063,-.0061,-.0064,-.0062,-.0060,-.0065,-.0061,-.0063,-.0062,-.0066,
-.0060,-.0064,-.0061,-.0063,-.0065,-.0062,-.0060,-.0064];
const BR_SmallWoody = [null,.0077,.0076,.0075,.0074,.0072,null,.0076,.0073,null,
.0075,.0070,.0077,.0073,.0071,.0076,.0074,.0078,.0072,.0075,
.0070,.0077,.0073,.0076,.0069,.0074,.0078,.0072,.0075,.0071,
.0077,.0073,.0075,.0070,.0076,.0074,.0072,.0077];
const BR_Temperature = [null,null,null,null,.0074,.0073,.0075,.0072,.0074,.0076,
.0073,.0071,.0075,.0074,.0072,.0076,.0070,.0074,.0073,.0077,
.0071,.0075,.0073,.0078,.0070,.0074,.0076,.0072,.0075,.0069,
.0074,.0077,.0071,.0073,.0076,.0072,.0075,.0074];

// ---------- fitted trends [x start, y start, x end, y end], in covariate order ----------
const TL_fit = [[0,-.01757,5.99,-.0193],null,[0,.0135,5.99,.0129],[0,.0099,5.99,.0097],[0,-.0059,5.99,-.0062],[0,.0118,5.99,.0117],[0,.0069,5.99,.0064],[0,.0127,5.99,.0122],[0,-.0063,5.99,-.0066],[0,.0075,5.99,.0079],[0,.0100,5.99,.0095]];
const TR_fit = [null,[2.11,-.0149,5.96,-.0161],[2.11,.0137,5.96,.0129],[2.11,.0107,5.96,.0106],[2.11,-.0061,5.96,-.0061],[2.11,.0113,5.96,.0113],[2.11,.0093,5.96,.0087],[2.11,.0126,5.96,.0122],[2.11,-.0062,5.96,-.0063],[2.11,.0087,5.96,.0087],[2.11,.0102,5.96,.0101]];
const BL_fit = [[0,-.0146,5.99,-.0144],null,[0.91,.0084,5.99,.0084],[0,.0080,5.99,.0080],[0,-.0058,5.99,-.0057],[0,.0087,5.99,.0087],[0.13,.0049,5.99,.0050],[0.13,.0115,5.99,.0115],[0.45,-.0063,5.99,-.0063],[0,.0075,5.99,.0075],[0,.0072,5.99,.0072]];
const BR_fit = [null,[0.87,-.0122,5.97,-.0122],[0.42,.0090,5.97,.0090],[0.42,.0087,5.97,.0087],[0.10,-.0059,5.97,-.0058],[0.82,.0085,5.97,.0085],[0,.0067,5.97,.0067],[0,.0111,5.97,.0111],[0,-.0061,5.97,-.0061],[0.10,.00755,5.97,.00755],[0.87,.0074,5.97,.0074]];

// ---------- assembly (covariate order) ----------
const TL_vals = [TL_ALAN,null,TL_Conifer,TL_Deciduous,TL_DiffPrecip,TL_DiffTemp,TL_Habitat,TL_Julian,TL_Moonlight,TL_SmallWoody,TL_Temperature];
const TL2_vals = [TL2_ALAN,null,TL2_Conifer,null,null,null,TL2_Habitat,null,null,TL2_SmallWoody,null];
const BL_vals = [BL_ALAN,null,BL_Conifer,BL_Deciduous,BL_DiffPrecip,BL_DiffTemp,BL_Habitat,BL_Julian,BL_Moonlight,BL_SmallWoody,BL_Temperature];
const BL2_vals = [BL2_ALAN,null,null,null,null,null,BL2_Habitat,BL2_Julian,null,null,null];
const TR_vals = [null,TR_Artif,TR_Conifer,TR_Deciduous,TR_DiffPrecip,TR_DiffTemp,TR_Habitat,TR_Julian,TR_Moonlight,TR_SmallWoody,TR_Temperature];
const BR_vals = [null,BR_Artif,BR_Conifer,BR_Deciduous,BR_DiffPrecip,BR_DiffTemp,BR_Habitat,BR_Julian,BR_Moonlight,BR_SmallWoody,BR_Temperature];

// line numbers
const lnBox = document.getElementById('linenums');
lineNumbers.forEach((t,k)=>{
  const d=document.createElement('div'); d.className='ln'; d.textContent=t;
  d.style.top=(22+60.67*k-14)+'px'; lnBox.appendChild(d);
});
// legend entries
const lg = document.getElementById('legend');
covariates.forEach((c,i)=>{
  const cy = 182.7+44.2*i;
  const ln=document.createElement('div'); ln.className='abs';
  ln.style.cssText=`left:1183px;top:${cy-2.25}px;width:36px;height:4.5px;background:${colors[i]}`;
  const ci=document.createElement('div'); ci.className='abs';
  ci.style.cssText=`left:${1201-4.5}px;top:${cy-4.5}px;width:7px;height:7px;border:1px solid ${colors[i]};border-radius:50%;background:transparent;opacity:0.8`;
  const tx=document.createElement('div'); tx.className='leg'; tx.textContent=c; tx.style.top=(cy-13)+'px';
  lg.appendChild(ln); lg.appendChild(ci); lg.appendChild(tx);
});

Chart.defaults.font.family='"Liberation Sans", Arial, sans-serif';
const bgPlugin = {id:'panelbg', beforeDraw(chart){const a=chart.chartArea,c=chart.ctx;c.save();c.fillStyle='#EBEBEB';c.fillRect(a.left,a.top,a.right-a.left,a.bottom-a.top);c.restore();}};
const isMajorY = v => Math.abs(v*200-Math.round(v*200))<1e-6;
const isMajorX = v => Math.abs(v-Math.round(v))<1e-6;

function panel(id, groups, fits, showX, showY){
  const datasets=[];
  covariates.forEach((cov,i)=>{
    const pts=[];
    groups.forEach(g=>{
      const ys=g.vals[i]; if(!ys) return;
      g.xs.forEach((x,k)=>{ if(ys[k]!==null && ys[k]!==undefined) pts.push({x:x,y:ys[k]}); });
    });
    if(!pts.length) return;
    datasets.push({label:cov,data:pts,borderColor:colors[i],backgroundColor:'rgba(0,0,0,0)',pointRadius:4.5,pointHoverRadius:4.5,borderWidth:1.2,order:100-i});
  });
  fits.forEach((f,i)=>{
    if(!f) return;
    datasets.push({label:covariates[i]+' fit',data:[{x:f[0],y:f[1]},{x:f[2],y:f[3]}],showLine:true,borderColor:colors[i],backgroundColor:colors[i],borderWidth:4.5,pointRadius:0,pointHoverRadius:0,order:50-i});
  });
  new Chart(document.getElementById(id),{
    type:'scatter',
    data:{datasets},
    plugins:[bgPlugin],
    options:{
      responsive:false, animation:false, devicePixelRatio:1, events:[],
      layout:{padding:0, autoPadding:false},
      plugins:{legend:{display:false},tooltip:{enabled:false}},
      scales:{
        x:{type:'linear',min:-0.322,max:6.278,
          afterBuildTicks:s=>{s.ticks=xTicks.map(v=>({value:v}));},
          afterFit:s=>{s.height=showX?40:0;s.paddingLeft=0;s.paddingRight=0;s.paddingTop=0;s.paddingBottom=0;},
          border:{display:false},
          grid:{color:'#FFFFFF',lineWidth:c=>isMajorX(c.tick.value)?2:1,drawTicks:showX,tickLength:6,tickWidth:1.5,
                tickColor:c=>isMajorX(c.tick.value)?'#333333':'rgba(0,0,0,0)'},
          ticks:{display:showX,autoSkip:false,maxRotation:0,padding:5,color:'#4D4D4D',font:{size:21},
                 callback:v=>isMajorX(v)?String(Math.round(v)):''}
        },
        y:{type:'linear',min:-0.0269,max:0.0171,
          afterBuildTicks:s=>{s.ticks=yTicks.map(v=>({value:v}));},
          afterFit:s=>{s.width=showY?91:0;s.paddingTop=0;s.paddingBottom=0;s.paddingLeft=0;s.paddingRight=0;},
          border:{display:false},
          grid:{color:'#FFFFFF',lineWidth:c=>isMajorY(c.tick.value)?2:1,drawTicks:showY,tickLength:6,tickWidth:1.5,
                tickColor:c=>isMajorY(c.tick.value)?'#333333':'rgba(0,0,0,0)'},
          ticks:{display:showY,autoSkip:false,padding:7,color:'#4D4D4D',font:{size:21},
                 callback:v=>isMajorY(v)?v.toFixed(3):''}
        }
      }
    }
  });
}
panel('tl', [{xs:xL,vals:TL_vals},{xs:xL2,vals:TL2_vals}], TL_fit, false, true);
panel('tr', [{xs:xTR,vals:TR_vals}], TR_fit, false, false);
panel('bl', [{xs:xL,vals:BL_vals},{xs:xL2,vals:BL2_vals}], BL_fit, true, true);
panel('br', [{xs:xBR,vals:BR_vals}], BR_fit, true, false);
</script>
</body></html>
